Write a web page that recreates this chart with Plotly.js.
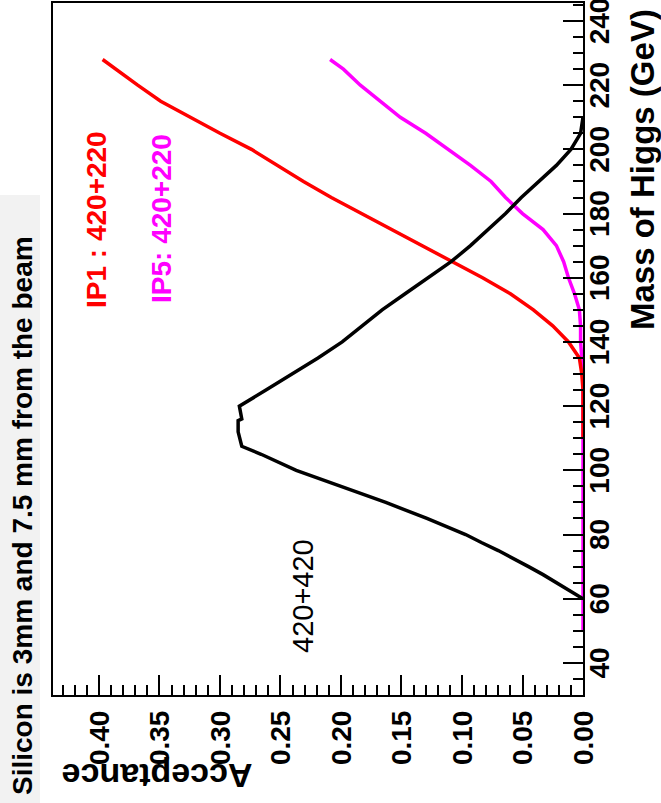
<!DOCTYPE html>
<html>
<head>
<meta charset="utf-8">
<script src="https://cdn.plot.ly/plotly-3.0.1.min.js"></script>
<style>
  html, body { margin: 0; padding: 0; background: #ffffff; }
  body { width: 661px; height: 803px; overflow: hidden; position: relative; }
  /* The canvas is laid out landscape (803 x 661) and turned a quarter turn
     counter-clockwise so the mass axis runs up the right-hand side. */
  #chart {
    position: absolute; left: 0; top: 0;
    width: 803px; height: 661px;
    transform-origin: 0 0;
    transform: translate(0px, 803px) rotate(-90deg);
  }
</style>
</head>
<body>
<div id="chart"></div>
<script>
// Higgs mass (GeV) and acceptance for each configuration
const massIP1 = [110, 115, 120, 125, 130, 135, 140, 145, 150, 155, 160, 165, 170, 175,
                 180, 185, 190, 195, 200, 205, 210, 215, 220, 225, 228];
const accIP1  = [0, 0, 0, 0, 0.001, 0.003, 0.012, 0.025, 0.041, 0.060, 0.083, 0.108, 0.134, 0.158,
                 0.183, 0.208, 0.231, 0.252, 0.274, 0.300, 0.325, 0.349, 0.368, 0.386, 0.397];

const massIP5 = [50, 55, 60, 65, 70, 75, 80, 85, 90, 95, 100, 105, 110, 115, 120, 125, 130,
                 135, 140, 145, 150, 155, 160, 165, 170, 175, 180, 185, 190, 195, 200,
                 205, 210, 215, 220, 225, 228];
const accIP5  = [0, 0, 0, 0, 0, 0, 0, 0, 0, 0, 0, 0, 0, 0, 0, 0, 0,
                 0.001, 0.002, 0.002, 0.003, 0.007, 0.012, 0.016, 0.022, 0.033, 0.050, 0.064, 0.076, 0.093, 0.111,
                 0.130, 0.151, 0.168, 0.184, 0.198, 0.209];

const mass420 = [60, 62.5, 65, 67.5, 70, 72.5, 75, 77.5, 80, 85, 90, 95, 100, 105, 107.5,
                 112, 115.5, 116, 120, 125, 130, 135, 140, 145, 150, 155, 160, 165, 170,
                 175, 180, 185, 190, 195, 200, 205, 210];
const acc420  = [0, 0.011, 0.021, 0.033, 0.045, 0.057, 0.070, 0.084, 0.097, 0.129, 0.163, 0.200, 0.237, 0.266, 0.282,
                 0.285, 0.285, 0.282, 0.284, 0.262, 0.240, 0.219, 0.199, 0.183, 0.166, 0.147, 0.128, 0.109, 0.093,
                 0.078, 0.064, 0.051, 0.037, 0.022, 0.010, 0.002, 0];

// Axis tick labels
const massTicks = [40, 60, 80, 100, 120, 140, 160, 180, 200, 220, 240];
const accTicks  = [0.00, 0.05, 0.10, 0.15, 0.20, 0.25, 0.30, 0.35, 0.40];

const FONT = 'Liberation Sans, Arial, Helvetica, sans-serif';

const traces = [
  { x: massIP5, y: accIP5, mode: 'lines', line: { color: '#ff00ff', width: 3.5 } },
  { x: massIP1, y: accIP1, mode: 'lines', line: { color: '#ff0000', width: 3.5 } },
  { x: mass420, y: acc420, mode: 'lines', line: { color: '#000000', width: 3.5 } }
];

const axisCommon = {
  showgrid: false, zeroline: false,
  showline: true, linecolor: '#000', linewidth: 2, mirror: true,
  ticks: 'inside', ticklen: 20, tickwidth: 2, tickcolor: '#000',
  tickfont: { family: FONT, size: 28, color: '#000', weight: 'bold' }
};

const layout = {
  width: 803, height: 661,
  margin: { l: 108, r: 3, t: 53, b: 78 },
  paper_bgcolor: '#ffffff', plot_bgcolor: '#ffffff',
  showlegend: false,
  title: {
    text: 'Silicon is 3mm and 7.5 mm from the beam',
    font: { family: FONT, size: 28, color: '#000', weight: 'bold' },
    xref: 'container', yref: 'container',
    x: 8 / 803, xanchor: 'left',
    y: 1 - 22 / 661, yanchor: 'middle'
  },
  xaxis: Object.assign({}, axisCommon, {
    range: [30, 245.6],
    ticklabelstandoff: -10,
    ticklabeloverflow: 'allow',
    tickmode: 'array', tickvals: massTicks, ticktext: massTicks.map(String),
    minor: { dtick: 5, tick0: 0, ticks: 'inside', ticklen: 10, tickwidth: 2, tickcolor: '#000' }
  }),
  yaxis: Object.assign({}, axisCommon, {
    range: [0, 0.438],
    ticklabelstandoff: 8,
    tickmode: 'array', tickvals: accTicks, ticktext: accTicks.map(v => v.toFixed(2)),
    minor: { dtick: 0.01, tick0: 0, ticks: 'inside', ticklen: 10, tickwidth: 2, tickcolor: '#000' }
  }),
  shapes: [
    { type: 'rect', xref: 'paper', yref: 'paper', layer: 'below',
      x0: -108 / 692, x1: 608 / 692 - 108 / 692, y0: (583 - 40) / 530, y1: 583 / 530,
      fillcolor: '#f2f2f2', line: { width: 0 } }
  ],
  annotations: [
    { text: 'Mass of Higgs (GeV)', xref: 'paper', yref: 'paper',
      x: (796 - 108) / 692, xanchor: 'right', y: (583 - 642) / 530, yanchor: 'middle',
      showarrow: false, font: { family: FONT, size: 33, color: '#000', weight: 'bold' } },
    { text: 'Acceptance', xref: 'paper', yref: 'paper', textangle: -90,
      x: (27 - 108) / 692, xanchor: 'center', y: (583 - 60) / 530, yanchor: 'top',
      showarrow: false, font: { family: FONT, size: 34, color: '#000', weight: 'bold' } },
    { text: 'IP1 : 420+220', x: 150, y: 0.402, xanchor: 'left', yanchor: 'middle',
      showarrow: false, font: { family: FONT, size: 28, color: '#ff0000', weight: 'bold' } },
    { text: 'IP5: 420+220', x: 151.5, y: 0.348, xanchor: 'left', yanchor: 'middle',
      showarrow: false, font: { family: FONT, size: 28, color: '#ff00ff', weight: 'bold' } },
    { text: '420+420', x: 42.5, y: 0.231, xanchor: 'left', yanchor: 'middle',
      showarrow: false, font: { family: FONT, size: 29, color: '#000' } }
  ]
};

Plotly.newPlot('chart', traces, layout, { displayModeBar: false, staticPlot: true });
</script>
</body>
</html>
